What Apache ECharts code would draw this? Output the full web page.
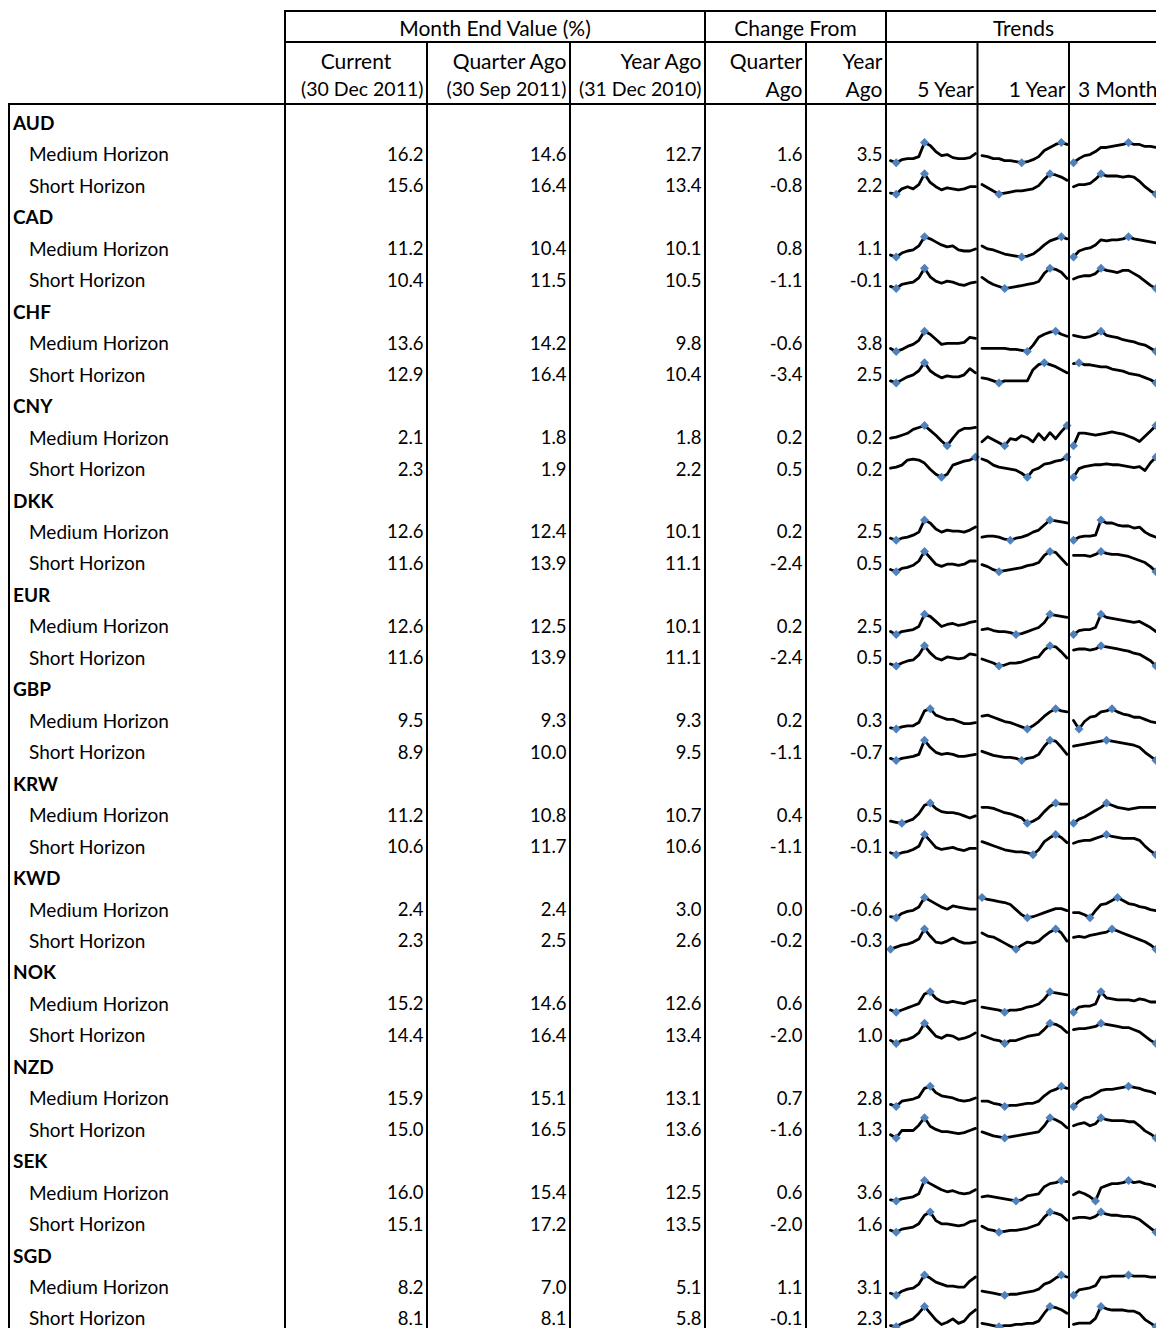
<!DOCTYPE html>
<html><head><meta charset="utf-8">
<script src="https://cdn.jsdelivr.net/npm/echarts@6/dist/echarts.min.js"></script>
<style>html,body{margin:0;padding:0;background:#fff}#c{width:1156px;height:1328px}</style>
</head><body><div id="c"></div>
<script>
// ---------- DATA ----------
const currencies = ['AUD','CAD','CHF','CNY','DKK','EUR','GBP','KRW','KWD','NOK','NZD','SEK','SGD'];
const horizons = ['Medium Horizon','Short Horizon'];
// rows in order: for each currency Medium, Short
const currentVal   = [16.2,15.6, 11.2,10.4, 13.6,12.9, 2.1,2.3, 12.6,11.6, 12.6,11.6, 9.5,8.9, 11.2,10.6, 2.4,2.3, 15.2,14.4, 15.9,15.0, 16.0,15.1, 8.2,8.1];
const quarterAgoVal= [14.6,16.4, 10.4,11.5, 14.2,16.4, 1.8,1.9, 12.4,13.9, 12.5,13.9, 9.3,10.0, 10.8,11.7, 2.4,2.5, 14.6,16.4, 15.1,16.5, 15.4,17.2, 7.0,8.1];
const yearAgoVal   = [12.7,13.4, 10.1,10.5, 9.8,10.4, 1.8,2.2, 10.1,11.1, 10.1,11.1, 9.3,9.5, 10.7,10.6, 3.0,2.6, 12.6,13.4, 13.1,13.6, 12.5,13.5, 5.1,5.8];
const chgQuarter   = [1.6,-0.8, 0.8,-1.1, -0.6,-3.4, 0.2,0.5, 0.2,-2.4, 0.2,-2.4, 0.2,-1.1, 0.4,-1.1, 0.0,-0.2, 0.6,-2.0, 0.7,-1.6, 0.6,-2.0, 1.1,-0.1];
const chgYear      = [3.5,2.2, 1.1,-0.1, 3.8,2.5, 0.2,0.2, 2.5,0.5, 2.5,0.5, 0.3,-0.7, 0.5,-0.1, -0.6,-0.3, 2.6,1.0, 2.8,1.3, 3.6,1.6, 3.1,2.3];

const trend5Y = [
 [2,0,3,4,4,6,20,17,11,7,8,5,4,4,5,9],
 [1,0,5,7,5,9,19,11,7,4,6,5,4,5,7,7],
 [2,0,4,6,7,11,20,18,15,12,10,11,7,6,6,8],
 [2,0,4,5,6,10,19,11,7,5,7,6,4,3,5,6],
 [3,0,2,5,7,11,20,17,12,7,8,8,8,9,14,13],
 [2,0,3,6,8,12,20,12,8,5,7,6,6,8,14,10],
 [8,9,11,13,17,19,21,16,11,5,0,8,15,18,18,19],
 [9,10,12,17,18,17,14,8,3,0,3,12,14,16,17,20],
 [2,0,2,3,5,8,20,17,11,8,10,9,9,8,10,13],
 [2,0,3,4,6,10,19,13,7,5,7,7,6,7,10,10],
 [3,0,3,4,5,8,20,18,13,8,10,11,9,10,12,13],
 [2,0,3,5,6,11,20,13,8,6,9,8,7,8,12,11],
 [1,0,2,3,3,6,17,19,13,11,9,9,7,5,5,6],
 [2,0,2,3,4,6,20,13,8,6,7,6,4,4,5,6],
 [2,1,0,2,4,9,17,19,14,11,10,10,9,7,5,7],
 [2,0,2,3,5,8,19,13,7,5,6,7,5,4,6,6],
 [1,0,4,6,7,10,19,16,13,10,8,11,10,9,8,8],
 [0,2,4,5,7,10,20,13,7,6,8,11,8,6,6,7],
 [2,0,2,4,6,8,17,19,13,10,9,10,9,8,10,11],
 [3,0,3,4,6,10,19,13,7,5,8,7,4,5,7,10],
 [2,0,5,6,7,9,17,19,13,10,9,8,6,5,6,8],
 [3,0,7,7,7,12,19,11,8,6,6,5,4,5,7,9],
 [1,0,2,3,4,7,20,17,14,11,9,10,8,7,8,11],
 [2,0,3,4,5,8,16,19,11,8,8,7,6,7,10,11],
 [2,0,4,6,7,11,20,17,13,11,9,9,8,8,14,18],
 [1,0,3,5,7,12,18,12,6,2,4,7,3,5,11,15]
];
const trend1Y = [
 [7,6,4,4,2,2,1,0,1,3,6,12,15,18,20,18],
 [9,6,3,0,1,2,3,3,4,5,8,14,19,18,16,13],
 [11,8,7,5,3,2,1,0,1,3,7,12,16,18,20,18],
 [11,7,4,2,0,1,2,3,4,5,7,15,20,19,16,10],
 [3,3,3,3,3,2,2,1,0,6,14,17,19,20,17,15],
 [5,4,2,0,2,2,2,2,2,13,18,20,18,16,13,10],
 [4,9,6,3,0,7,6,10,8,4,12,6,13,7,14,20],
 [18,16,12,10,9,8,7,4,0,7,9,13,14,16,17,20],
 [3,4,4,3,1,0,2,3,5,8,10,15,20,19,18,17],
 [7,5,2,0,1,2,3,4,6,7,9,16,20,19,13,7],
 [5,6,4,3,3,2,0,1,3,5,7,12,20,19,18,17],
 [7,5,3,0,1,3,3,4,6,8,9,16,20,19,14,8],
 [12,13,11,9,7,6,4,2,0,3,7,12,16,19,17,16],
 [9,7,5,4,3,3,2,0,2,3,6,14,20,19,13,6],
 [15,15,14,12,10,9,7,5,0,2,5,11,16,19,18,18],
 [13,11,9,7,5,4,3,3,2,0,5,13,17,20,17,12],
 [20,18,17,16,15,13,8,3,0,1,3,5,7,9,9,7],
 [16,13,12,9,6,3,0,4,7,6,8,13,17,20,16,8],
 [5,4,3,2,0,2,2,3,5,6,8,13,20,19,18,17],
 [8,6,4,3,0,3,3,5,7,8,9,14,20,19,16,11],
 [5,5,3,2,0,1,1,2,3,3,5,10,14,16,19,17],
 [6,4,2,1,0,1,2,3,4,5,6,12,20,18,15,10],
 [4,5,4,3,2,1,0,1,5,6,7,14,17,18,20,19],
 [6,3,2,0,1,2,2,3,4,6,8,15,20,19,17,12],
 [4,3,2,1,0,1,1,2,3,4,6,11,13,17,20,18],
 [3,2,1,0,1,1,2,2,3,3,5,12,18,17,15,12]
];
const trend3M = [
 [0,4,7,8,11,15,15,16,17,18,20,18,18,16,16,15],
 [7,9,9,10,14,19,17,17,17,16,17,16,12,7,3,0],
 [0,6,8,9,12,17,16,17,17,18,20,18,17,16,15,14],
 [9,11,12,12,14,19,17,16,15,17,17,14,11,7,3,0],
 [15,14,13,14,16,19,15,14,13,11,10,9,7,6,3,0],
 [18,19,17,17,16,15,15,13,12,11,9,8,7,5,3,0],
 [0,12,12,11,10,11,12,13,12,11,9,7,4,9,14,19],
 [0,9,11,12,13,13,14,13,13,12,11,10,11,7,15,21],
 [0,3,4,4,5,20,17,17,15,14,14,12,13,8,5,3],
 [16,16,16,15,17,20,18,17,17,16,15,13,11,9,5,0],
 [0,4,5,5,7,20,17,16,15,14,13,12,13,10,7,3],
 [15,16,16,15,16,19,18,17,16,15,14,12,11,8,5,0],
 [8,0,7,11,12,16,17,19,16,14,13,11,11,9,7,6],
 [14,15,16,17,18,19,20,19,18,17,16,15,13,8,4,0],
 [0,4,6,9,12,15,19,17,15,14,13,14,15,15,15,15],
 [12,14,15,15,17,19,21,19,18,17,17,17,15,9,4,0],
 [5,5,3,0,7,13,14,17,20,17,14,13,11,10,8,7],
 [11,12,11,13,14,15,16,19,17,15,13,11,9,7,4,0],
 [0,5,6,6,8,20,14,13,12,12,12,11,13,12,10,10],
 [13,14,14,15,16,19,18,17,16,15,15,13,11,7,3,0],
 [0,5,8,9,12,15,16,16,17,18,19,18,17,15,14,12],
 [12,14,15,12,14,20,18,17,17,17,16,16,12,7,4,0],
 [6,9,7,4,0,13,15,17,17,18,20,18,19,17,16,14],
 [13,14,14,13,15,19,17,16,16,15,15,14,12,8,4,0],
 [0,5,6,7,9,17,17,18,18,18,19,18,18,18,17,17],
 [2,3,3,3,7,17,15,14,14,14,13,13,11,6,3,0]
];
const groupHeaders = ['Month End Value (%)','Change From','Trends'];
const colHeaders1 = ['Current','Quarter Ago','Year Ago','Quarter','Year','','',''];
const colHeaders2 = ['(30 Dec 2011)','(30 Sep 2011)','(31 Dec 2010)','Ago','Ago','5 Year','1 Year','3 Month'];

// ---------- LAYOUT ----------
const FONT = 'Lato, "Noto Sans", sans-serif';
const FS_HEAD = 21;
const FS_DATE = 19.5;
const FS_ROW = 18.5;
const FS_LABEL = 19;
const ROW0 = 122.5, ROWH = 31.46;
const vx = [9, 285, 427, 570, 705, 806, 886, 977.5, 1069, 1161]; // column borders
const numCols = [currentVal, quarterAgoVal, yearAgoVal, chgQuarter, chgYear];
const trends = [trend5Y, trend1Y, trend3M];

const graphics = [];
function line(x1,y1,x2,y2){
  graphics.push({type:'line', silent:true, z:10, shape:{x1,y1,x2,y2}, style:{stroke:'#000', lineWidth:2}});
}
function text(t,x,y,align,size,bold){
  graphics.push({type:'text', silent:true, z:11, style:{text:t, x, y, font:(bold?'bold ':'')+size+'px '+FONT,
    fill:'#000', align:align, textAlign:align, verticalAlign:'middle', textVerticalAlign:'middle'}});
}
// borders
line(284,11,1156,11);
line(284,42,1156,42);
line(8,104,1156,104);
[285,705,886].forEach(x=>line(x,10,x,1328));
[427,570,806,977.5,1069].forEach(x=>line(x,41,x,1328));
line(9,103,9,1328);
// headers
text(groupHeaders[0],(285+705)/2,27,'center',FS_HEAD);
text(groupHeaders[1],(705+886)/2,27,'center',FS_HEAD);
text(groupHeaders[2],(886+1161)/2,27,'center',FS_HEAD);
text(colHeaders1[0],(285+427)/2,60,'center',FS_HEAD);
for(let c=1;c<5;c++) text(colHeaders1[c],vx[c+2]-3.5,60,'right',FS_HEAD);
for(let c=0;c<8;c++) text(colHeaders2[c],vx[c+2]-3.5,88,'right',c<3?FS_DATE:FS_HEAD);

// rows
const grids=[], xAxes=[], yAxes=[], series=[];
currencies.forEach((cur,g)=>{
  const base = 3*g;
  text(cur,13,ROW0+ROWH*base,'left',FS_LABEL,true);
  horizons.forEach((hz,h)=>{
    const r = 2*g+h;
    const cy = ROW0+ROWH*(base+1+h);
    text(hz,29,cy,'left',FS_LABEL);
    numCols.forEach((arr,c)=>text(arr[r].toFixed(1),vx[c+2]-3.5,cy,'right',FS_ROW));
    const top = cy-15.75+4.2;
    trends.forEach((tr,t)=>{
      const idx = grids.length;
      const left = vx[t+6]+4.5;
      grids.push({left:left, top:top, width:85, height:20.3, containLabel:false});
      xAxes.push({type:'category', gridIndex:idx, show:false, boundaryGap:false, data:tr[r].map((_,i)=>i)});
      yAxes.push({type:'value', gridIndex:idx, show:false, min:'dataMin', max:'dataMax', scale:true});
      series.push({type:'line', xAxisIndex:idx, yAxisIndex:idx, data:tr[r], showSymbol:false, symbol:'none', clip:false,
        silent:true, animation:false, lineStyle:{color:'#000', width:2.8, join:'round', cap:'round'},
        markPoint:{symbol:'diamond', symbolSize:9, silent:true, animation:false, label:{show:false},
          itemStyle:{color:'#4F81BD'}, data:[{type:'max'},{type:'min'}]}});
    });
  });
});

const chart = echarts.init(document.getElementById('c'), null, {renderer:'svg'});
chart.setOption({animation:false, backgroundColor:'#fff', grid:grids, xAxis:xAxes, yAxis:yAxes, series:series, graphic:{elements:graphics}});
</script></body></html>
